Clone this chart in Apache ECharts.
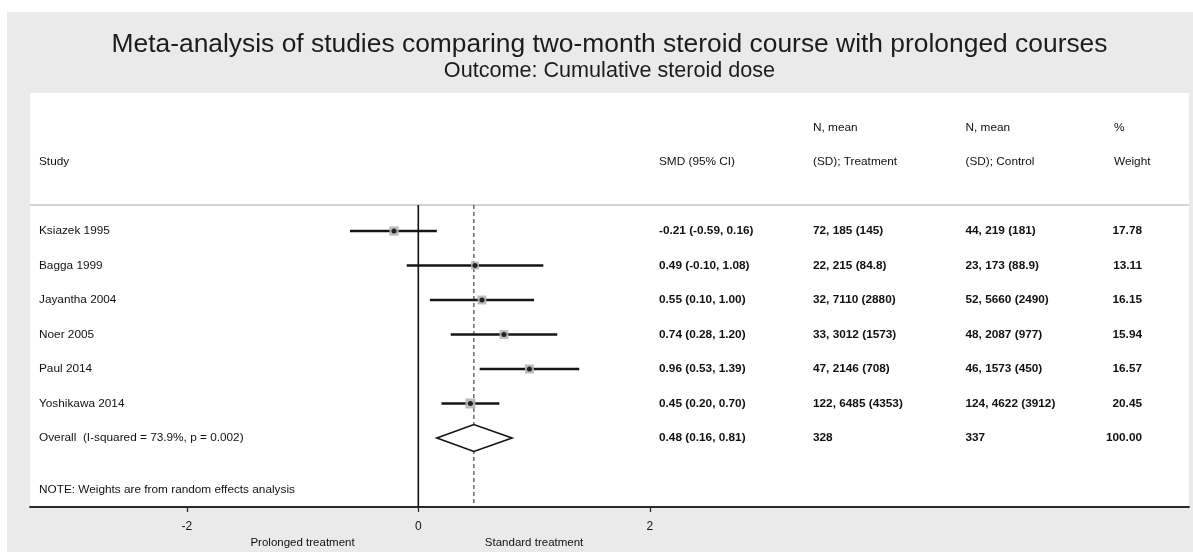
<!DOCTYPE html>
<html>
<head>
<meta charset="utf-8">
<script src="https://cdn.jsdelivr.net/npm/echarts@6/dist/echarts.min.js"></script>
<style>
html,body{margin:0;padding:0;background:#fff;width:1193px;height:552px;overflow:hidden;}
#c{position:absolute;left:7px;top:12px;width:1186px;height:540px;}
</style>
</head>
<body>
<div id="c"></div>
<script>
// ---- data ----
const titleText = 'Meta-analysis of studies comparing two-month steroid course with prolonged courses';
const subtitleText = 'Outcome: Cumulative steroid dose';
const studies = ['Ksiazek 1995', 'Bagga 1999', 'Jayantha 2004', 'Noer 2005', 'Paul 2014', 'Yoshikawa 2014'];
const smd = [-0.21, 0.49, 0.55, 0.74, 0.96, 0.45];
const ciLow = [-0.59, -0.10, 0.10, 0.28, 0.53, 0.20];
const ciHigh = [0.16, 1.08, 1.00, 1.20, 1.39, 0.70];
const treatment = ['72, 185 (145)', '22, 215 (84.8)', '32, 7110 (2880)', '33, 3012 (1573)', '47, 2146 (708)', '122, 6485 (4353)'];
const control = ['44, 219 (181)', '23, 173 (88.9)', '52, 5660 (2490)', '48, 2087 (977)', '46, 1573 (450)', '124, 4622 (3912)'];
const weights = [17.78, 13.11, 16.15, 15.94, 16.57, 20.45];
const overallLabel = 'Overall  (I-squared = 73.9%, p = 0.002)';
const overallEst = 0.48, overallLow = 0.16, overallHigh = 0.81;
const overallNT = '328', overallNC = '337', overallWeight = '100.00';
const noteText = 'NOTE: Weights are from random effects analysis';
const xTicks = [-2, 0, 2];
const sideLabels = ['Prolonged treatment', 'Standard treatment'];
const sideLabelPos = [-1, 1];
const headTop = ['N, mean', 'N, mean', '%'];
const headBottom = ['Study', 'SMD (95% CI)', '(SD); Treatment', '(SD); Control', 'Weight'];

// ---- layout ----
const FONT = '"Liberation Sans", Arial, sans-serif';
const XMIN = -3.3546, XMAX = 6.658;
const YMIN = -4, YMAX = 8;
const SEP = -0.755;
const rowOverall = studies.length;
const rowNote = 7.5;

const chart = echarts.init(document.getElementById('c'), null, {renderer: 'canvas'});

const ciData = studies.map((s, i) => [ciLow[i], ciHigh[i], i]);
const boxData = studies.map((s, i) => ({value: [smd[i], i], symbolSize: 2.2 * Math.sqrt(weights[i])}));
const dotData = studies.map((s, i) => [smd[i], i]);

const option = {
  backgroundColor: '#eaeaea',
  animation: false,
  grid: {left: 23, right: 4, top: 81, bottom: 45, show: true, backgroundColor: '#ffffff', borderWidth: 0},
  xAxis: {
    type: 'value', min: XMIN, max: XMAX,
    axisLine: {show: true, onZero: false, lineStyle: {color: '#2a2a2a', width: 1.8}},
    axisTick: {show: true, customValues: xTicks, length: 5, inside: false, lineStyle: {color: '#2a2a2a', width: 1.3}},
    axisLabel: {show: true, customValues: xTicks, margin: 14, color: '#111', fontSize: 12, fontFamily: FONT},
    splitLine: {show: false}
  },
  yAxis: {type: 'value', min: YMIN, max: YMAX, inverse: true, show: false, splitLine: {show: false}},
  series: [
    { // separator line
      type: 'line', data: [[XMIN, SEP], [XMAX, SEP]], symbol: 'none', silent: true,
      lineStyle: {color: '#c4c4c4', width: 1.4}, z: 1
    },
    { // null line
      type: 'line', data: [[0, SEP], [0, YMAX]], symbol: 'none', silent: true,
      lineStyle: {color: '#111', width: 1.6}, z: 2
    },
    { // overall dashed line
      type: 'line', data: [[overallEst, SEP], [overallEst, YMAX]], symbol: 'none', silent: true,
      lineStyle: {color: '#444', width: 1.2, type: [4, 3]}, z: 2
    },
    { // CI lines
      type: 'custom', data: ciData, z: 3,
      renderItem: (params, api) => {
        const a = api.coord([api.value(0), api.value(2)]);
        const b = api.coord([api.value(1), api.value(2)]);
        return {type: 'line', shape: {x1: a[0], y1: a[1], x2: b[0], y2: b[1]},
          style: {stroke: '#151515', lineWidth: 2.6}};
      }
    },
    { // weight boxes
      type: 'scatter', data: boxData, symbol: 'rect', z: 4,
      itemStyle: {color: '#b4b4b4', opacity: 0.9}
    },
    { // point estimates
      type: 'scatter', data: dotData, symbol: 'circle', symbolSize: 5, z: 5,
      itemStyle: {color: '#000'}
    },
    { // overall diamond
      type: 'custom', data: [[overallLow, overallEst, overallHigh, rowOverall]], z: 5,
      renderItem: (params, api) => {
        const y = api.value(3);
        const l = api.coord([api.value(0), y]);
        const c = api.coord([api.value(1), y]);
        const r = api.coord([api.value(2), y]);
        const h = 13.5;
        return {type: 'polygon', shape: {points: [[l[0], l[1]], [c[0], c[1] - h], [r[0], r[1]], [c[0], c[1] + h]]},
          style: {fill: '#ffffff', stroke: '#111', lineWidth: 1.6}};
      }
    }
  ]
};
chart.setOption(option);

// ---- texts positioned through the axes ----
const rowY = (r) => chart.convertToPixel({gridIndex: 0}, [0, r])[1];
const valX = (v) => chart.convertToPixel({gridIndex: 0}, [v, 0])[0];
const colStudy = 32, colSMD = 652, colT = 806, colC = 958.5, colWhead = 1107, colWright = 1135;
const g = [];
function txt(x, y, s, opt) {
  g.push({type: 'text', x: x, y: y, silent: true, z: 100,
    style: Object.assign({text: s, fill: '#111', font: '11.8px ' + FONT, textAlign: 'left', textVerticalAlign: 'middle'}, opt || {})});
}
const BOLD = 'bold 11.8px ' + FONT;
// title
txt(602.5, 33, titleText, {font: '26.4px ' + FONT, textAlign: 'center', fill: '#1c1c1c'});
txt(602.5, 59, subtitleText, {font: '21.6px ' + FONT, textAlign: 'center', fill: '#1c1c1c'});
// headers
txt(colT, rowY(-3), headTop[0]);
txt(colC, rowY(-3), headTop[1]);
txt(colWhead, rowY(-3), headTop[2]);
txt(colStudy, rowY(-2), headBottom[0]);
txt(colSMD, rowY(-2), headBottom[1]);
txt(colT, rowY(-2), headBottom[2]);
txt(colC, rowY(-2), headBottom[3]);
txt(colWhead, rowY(-2), headBottom[4]);
// rows
studies.forEach((s, i) => {
  const y = rowY(i);
  txt(colStudy, y, s);
  txt(colSMD, y, smd[i].toFixed(2) + ' (' + ciLow[i].toFixed(2) + ', ' + ciHigh[i].toFixed(2) + ')', {font: BOLD});
  txt(colT, y, treatment[i], {font: BOLD});
  txt(colC, y, control[i], {font: BOLD});
  txt(colWright, y, weights[i].toFixed(2), {font: BOLD, textAlign: 'right'});
});
const yo = rowY(rowOverall);
txt(colStudy, yo, overallLabel);
txt(colSMD, yo, overallEst.toFixed(2) + ' (' + overallLow.toFixed(2) + ', ' + overallHigh.toFixed(2) + ')', {font: BOLD});
txt(colT, yo, overallNT, {font: BOLD});
txt(colC, yo, overallNC, {font: BOLD});
txt(colWright, yo, overallWeight, {font: BOLD, textAlign: 'right'});
txt(colStudy, rowY(rowNote), noteText);
// side labels under axis
sideLabels.forEach((s, i) => txt(valX(sideLabelPos[i]), 531, s, {textAlign: 'center', font: '11.5px ' + FONT}));
chart.setOption({graphic: g});
</script>
</body>
</html>
